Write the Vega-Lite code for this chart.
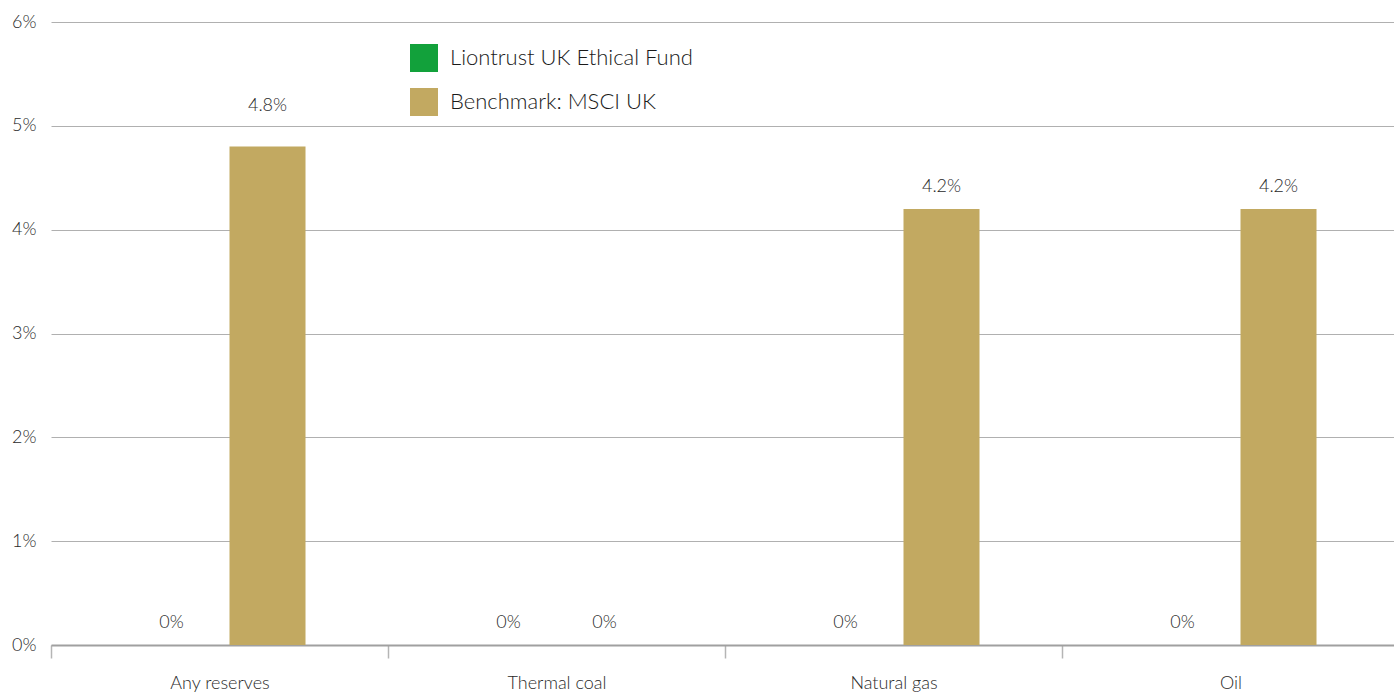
{
  "$schema": "https://vega.github.io/schema/vega-lite/v6.json",
  "autosize": "none",
  "width": 1348,
  "height": 623,
  "padding": {"left": 51, "top": 22, "right": 0, "bottom": 47},
  "background": "white",
  "config": {
    "view": {"stroke": null},
    "font": "Lato",
    "text": {"font": "Lato"}
  },
  "data": {
    "values": [
      {"category": "Any reserves", "series": "Liontrust UK Ethical Fund", "value": 0},
      {"category": "Any reserves", "series": "Benchmark: MSCI UK", "value": 4.8},
      {"category": "Thermal coal", "series": "Liontrust UK Ethical Fund", "value": 0},
      {"category": "Thermal coal", "series": "Benchmark: MSCI UK", "value": 0},
      {"category": "Natural gas", "series": "Liontrust UK Ethical Fund", "value": 0},
      {"category": "Natural gas", "series": "Benchmark: MSCI UK", "value": 4.2},
      {"category": "Oil", "series": "Liontrust UK Ethical Fund", "value": 0},
      {"category": "Oil", "series": "Benchmark: MSCI UK", "value": 4.2}
    ]
  },
  "transform": [
    {"calculate": "format(datum.value, '.1~f') + '%'", "as": "label"}
  ],
  "encoding": {
    "x": {
      "field": "category",
      "type": "nominal",
      "sort": ["Any reserves", "Thermal coal", "Natural gas", "Oil"],
      "scale": {"paddingInner": 0, "paddingOuter": 0},
      "axis": {
        "title": null,
        "labelAngle": 0,
        "labelFont": "Lato",
        "labelFontWeight": 300,
        "labelFontSize": 18,
        "labelColor": "#2a2a2a",
        "labelPadding": 16,
        "domainColor": "#a0a0a0",
        "domainWidth": 2,
        "tickColor": "#b5b5b5",
        "tickWidth": 1.5,
        "tickSize": 13,
        "tickBand": "extent"
      }
    },
    "xOffset": {
      "field": "series",
      "type": "nominal",
      "sort": ["Liontrust UK Ethical Fund", "Benchmark: MSCI UK"],
      "scale": {"paddingInner": 0.2083, "paddingOuter": 0.859}
    },
    "y": {
      "field": "value",
      "type": "quantitative",
      "scale": {"domain": [0, 6], "nice": false},
      "axis": {
        "title": null,
        "values": [0, 1, 2, 3, 4, 5, 6],
        "labelExpr": "datum.value + '%'",
        "labelFont": "Lato",
        "labelFontWeight": 300,
        "labelFontSize": 18,
        "labelColor": "#2a2a2a",
        "labelPadding": 15,
        "domain": false,
        "ticks": false,
        "grid": true,
        "gridColor": "#b0b0b0",
        "gridWidth": 1
      }
    }
  },
  "layer": [
    {
      "mark": {"type": "bar"},
      "encoding": {
        "color": {
          "field": "series",
          "type": "nominal",
          "sort": ["Liontrust UK Ethical Fund", "Benchmark: MSCI UK"],
          "scale": {
            "domain": ["Liontrust UK Ethical Fund", "Benchmark: MSCI UK"],
            "range": ["#12A13B", "#C2A961"]
          },
          "legend": {
            "title": null,
            "orient": "none",
            "legendX": 359,
            "legendY": 22,
            "symbolType": "square",
            "symbolSize": 784,
            "symbolStrokeWidth": 0,
            "labelFont": "Lato",
            "labelFontWeight": 300,
            "labelFontSize": 22,
            "labelColor": "#1a1a1a",
            "labelLimit": 0,
            "labelOffset": 12,
            "rowPadding": 16
          }
        }
      }
    },
    {
      "transform": [{"filter": "datum.value < 4.5"}],
      "mark": {"type": "text", "dy": -22, "fontSize": 18, "font": "Lato", "fontWeight": 300, "color": "#2a2a2a"},
      "encoding": {"text": {"field": "label"}}
    },
    {
      "transform": [{"filter": "datum.value >= 4.5"}],
      "mark": {"type": "text", "dy": -41, "fontSize": 18, "font": "Lato", "fontWeight": 300, "color": "#2a2a2a"},
      "encoding": {"text": {"field": "label"}}
    }
  ]
}
